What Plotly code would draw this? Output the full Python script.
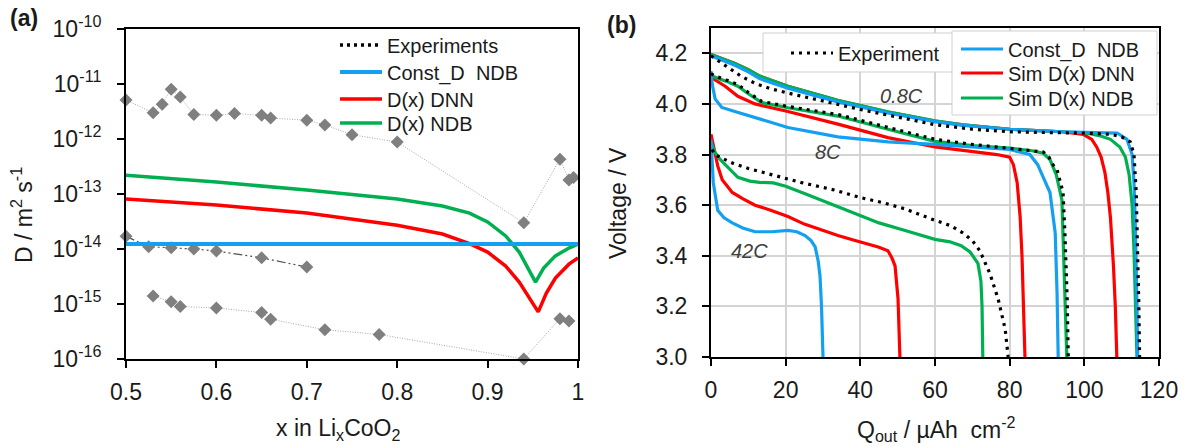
import plotly.graph_objects as go

# ---------------- Panel (a): diffusion coefficient vs x ----------------
x_exp_upper = [0.50, 0.53, 0.54, 0.55, 0.56, 0.575, 0.60, 0.62, 0.65, 0.66, 0.70, 0.72, 0.75, 0.80, 0.94, 0.98, 0.99, 0.995]
d_exp_upper = [5.1e-12, 3.0e-12, 4.3e-12, 8.0e-12, 5.8e-12, 2.8e-12, 2.7e-12, 2.9e-12, 2.7e-12, 2.4e-12,
               2.2e-12, 1.8e-12, 1.2e-12, 8.8e-13, 3.0e-14, 4.3e-13, 1.8e-13, 2.0e-13]

x_exp_mid = [0.50, 0.525, 0.55, 0.575, 0.60, 0.65, 0.70]
d_exp_mid = [1.7e-14, 1.1e-14, 1.05e-14, 1.0e-14, 9.2e-15, 6.9e-15, 4.7e-15]

x_exp_lower = [0.53, 0.55, 0.56, 0.60, 0.65, 0.66, 0.72, 0.78, 0.94, 0.98, 0.99]
d_exp_lower = [1.4e-15, 1.1e-15, 9.0e-16, 8.5e-16, 7.0e-16, 5.3e-16, 3.4e-16, 2.8e-16, 1.0e-16, 5.4e-16, 4.9e-16]

x_const = [0.50, 1.00]
d_const = [1.23e-14, 1.23e-14]

x_dnn = [0.50, 0.60, 0.70, 0.80, 0.85, 0.88, 0.90, 0.92, 0.935, 0.948, 0.956, 0.965, 0.975, 0.99, 1.00]
d_dnn = [8.1e-14, 6.3e-14, 4.5e-14, 2.7e-14, 1.87e-14, 1.25e-14, 8.8e-15, 4.9e-15, 2.5e-15, 1.17e-15,
         7.2e-16, 1.58e-15, 2.97e-15, 5.3e-15, 6.9e-15]

x_ndb = [0.50, 0.60, 0.70, 0.80, 0.85, 0.88, 0.90, 0.92, 0.935, 0.945, 0.953, 0.962, 0.975, 0.99, 1.00]
d_ndb = [2.2e-13, 1.65e-13, 1.18e-13, 8.1e-14, 6.05e-14, 4.5e-14, 3.1e-14, 1.73e-14, 8.8e-15, 4.5e-15,
         2.5e-15, 4.5e-15, 7.5e-15, 1.04e-14, 1.23e-14]

d_ticks = [1e-16, 1e-15, 1e-14, 1e-13, 1e-12, 1e-11, 1e-10]
d_ticktext = ["10<sup>-16</sup>", "10<sup>-15</sup>", "10<sup>-14</sup>", "10<sup>-13</sup>",
              "10<sup>-12</sup>", "10<sup>-11</sup>", "10<sup>-10</sup>"]
x_ticks = [0.5, 0.6, 0.7, 0.8, 0.9, 1.0]
x_ticktext = ["0.5", "0.6", "0.7", "0.8", "0.9", "1"]

# ---------------- Panel (b): discharge curves ----------------
# 0.8C
q_exp_08 = [0, 2, 5, 8, 12, 16, 20, 30, 40, 50, 60, 70, 80, 90, 100, 107, 110, 112.3, 113.3, 113.9, 114.3, 114.6, 114.8]
v_exp_08 = [4.19, 4.17, 4.14, 4.11, 4.08, 4.06, 4.045, 4.01, 3.978, 3.948, 3.918, 3.90, 3.89, 3.887, 3.885, 3.88,
            3.87, 3.85, 3.80, 3.65, 3.42, 3.2, 3.0]
q_dnn_08 = [0, 3, 6.4, 10, 13, 20.6, 34, 47.4, 60, 67.5, 80, 94, 99.7, 102, 103.3, 104.5, 105.5, 106.3, 107, 107.8, 108.3, 108.7]
v_dnn_08 = [4.195, 4.18, 4.16, 4.135, 4.11, 4.07, 4.013, 3.968, 3.932, 3.917, 3.90, 3.89, 3.88, 3.86, 3.83, 3.79,
            3.73, 3.65, 3.55, 3.36, 3.2, 3.0]
q_ndb_08 = [0, 3, 6.4, 10, 13, 20.6, 34, 47.4, 60, 67.5, 80, 94, 100, 104, 107, 109.5, 111, 112, 112.8, 113.3, 113.8, 114.1]
v_ndb_08 = [4.195, 4.18, 4.16, 4.135, 4.11, 4.07, 4.014, 3.969, 3.933, 3.917, 3.90, 3.89, 3.886, 3.875, 3.86, 3.83,
            3.79, 3.72, 3.6, 3.42, 3.2, 3.0]
q_cst_08 = [0, 3, 6.4, 10, 13, 20.6, 34, 47.4, 60, 67.5, 80, 94, 100, 105, 108.8, 111.4, 112.8, 113.3, 113.7, 114.1, 114.3]
v_cst_08 = [4.19, 4.172, 4.153, 4.127, 4.10, 4.062, 4.008, 3.964, 3.93, 3.915, 3.90, 3.89, 3.888, 3.888, 3.885, 3.86,
            3.80, 3.69, 3.5, 3.2, 3.0]
# 8C
q_exp_8 = [0, 1.1, 4, 7.2, 10, 13.6, 20.6, 34, 47.4, 60, 70, 76.6, 84, 89, 90.5, 91.6, 92.7, 94.3, 94.8, 95.4, 95.7]
v_exp_8 = [4.12, 4.11, 4.095, 4.077, 4.045, 4.01, 3.99, 3.958, 3.907, 3.86, 3.84, 3.83, 3.82, 3.81, 3.79, 3.76,
           3.74, 3.65, 3.49, 3.23, 3.0]
q_dnn_8 = [0, 0.5, 3.8, 7.2, 11.8, 20.6, 34, 47.4, 60, 76.6, 80, 81, 82, 82.8, 83.3, 83.6, 84.1]
v_dnn_8 = [4.11, 4.10, 4.07, 4.03, 4.0, 3.97, 3.92, 3.867, 3.83, 3.80, 3.79, 3.76, 3.69, 3.555, 3.4, 3.23, 3.0]
q_ndb_8 = [0, 1.1, 4, 7.2, 10, 13.6, 20.6, 34, 47.4, 60, 70, 80, 86, 89, 90.8, 92.5, 94, 94.8, 95.3]
v_ndb_8 = [4.115, 4.105, 4.09, 4.07, 4.04, 4.005, 3.985, 3.952, 3.90, 3.852, 3.835, 3.825, 3.815, 3.805, 3.78,
           3.72, 3.62, 3.29, 3.0]
q_cst_8 = [0, 0.3, 1.1, 2.9, 6.4, 11.8, 20.6, 34, 47.4, 60, 80, 85.4, 87.5, 89, 90.8, 92.2, 92.7, 93]
v_cst_8 = [4.13, 4.08, 4.02, 3.986, 3.97, 3.946, 3.907, 3.87, 3.85, 3.84, 3.82, 3.80, 3.76, 3.71, 3.65, 3.49, 3.25, 3.0]
# 42C
q_exp_42 = [0.3, 1, 3, 6, 10, 16, 24, 33, 40, 46, 52, 60, 64, 67.5, 70, 72, 74.7, 76.9, 78.8, 79.6]
v_exp_42 = [3.82, 3.80, 3.785, 3.765, 3.745, 3.72, 3.69, 3.66, 3.63, 3.61, 3.585, 3.54, 3.52, 3.49, 3.46, 3.42,
            3.33, 3.23, 3.11, 3.0]
q_dnn_42 = [0, 0.8, 1.8, 3, 5.7, 8.6, 11.8, 16, 20.6, 25, 29.7, 34, 38.6, 42, 44.8, 47.4, 48.5, 49.3, 50.1, 50.6]
v_dnn_42 = [3.88, 3.82, 3.755, 3.70, 3.65, 3.625, 3.60, 3.58, 3.555, 3.525, 3.50, 3.48, 3.46, 3.445, 3.435, 3.42,
            3.39, 3.36, 3.23, 3.0]
q_ndb_42 = [0, 1, 2.5, 4.2, 7.2, 10.4, 13, 16.7, 20, 25.2, 32.8, 38.6, 45, 52, 60, 64, 67, 69.4, 71.5, 72.3, 72.6, 72.8]
v_ndb_42 = [3.85, 3.81, 3.78, 3.755, 3.71, 3.695, 3.69, 3.688, 3.675, 3.645, 3.60, 3.565, 3.53, 3.50, 3.465, 3.455,
            3.44, 3.415, 3.37, 3.30, 3.2, 3.0]
q_cst_42 = [0, 0.2, 0.6, 1.8, 3.5, 5.7, 8.5, 11.8, 16.3, 20.6, 23, 25.2, 26.8, 27.9, 28.7, 29.2, 29.6, 30]
v_cst_42 = [3.86, 3.78, 3.69, 3.58, 3.55, 3.53, 3.51, 3.495, 3.495, 3.50, 3.495, 3.48, 3.46, 3.435, 3.38, 3.32, 3.2, 3.0]

q_ticks = [0, 20, 40, 60, 80, 100, 120]
v_ticks = [3.0, 3.2, 3.4, 3.6, 3.8, 4.0, 4.2]
rate_labels = ["0.8C", "8C", "42C"]
rate_label_q = [51, 31.3, 10.4]
rate_label_v = [4.03, 3.81, 3.42]

# ---------------- styling ----------------
W, H = 1195, 446
FONT = "Liberation Sans, Arial, sans-serif"
TXT = "#1a1a1a"
BLUE = "#14A0F0"
RED = "#FF0000"
GREEN = "#00B050"
GRID = "#D4D4D4"


def px(xp):
    return xp / W


def py(yp):
    return 1 - yp / H


fig = go.Figure()

# Panel (a) experimental data
exp_marker = dict(symbol="diamond", size=10, color="#7F7F7F")
fig.add_trace(go.Scatter(x=x_exp_upper, y=d_exp_upper, mode="lines+markers", showlegend=False,
                         line=dict(color="#A8A8A8", width=1, dash="1px,1.5px"), marker=exp_marker,
                         cliponaxis=False, xaxis="x", yaxis="y"))
fig.add_trace(go.Scatter(x=x_exp_mid, y=d_exp_mid, mode="lines+markers", showlegend=False,
                         line=dict(color="#505050", width=1.2, dash="9px,3px,2px,3px,2px,3px"), marker=exp_marker,
                         cliponaxis=False, xaxis="x", yaxis="y"))
fig.add_trace(go.Scatter(x=x_exp_lower, y=d_exp_lower, mode="lines+markers", showlegend=False,
                         line=dict(color="#A8A8A8", width=1, dash="1px,1.5px"), marker=exp_marker,
                         cliponaxis=False, xaxis="x", yaxis="y"))
fig.add_trace(go.Scatter(x=[None], y=[None], mode="lines", name="Experiments", legend="legend",
                         line=dict(color="black", width=3.5, dash="3px,4px"), xaxis="x", yaxis="y"))
fig.add_trace(go.Scatter(x=x_dnn, y=d_dnn, mode="lines", name="D(x) DNN", legend="legend5",
                         line=dict(color=RED, width=3.5), xaxis="x", yaxis="y"))
fig.add_trace(go.Scatter(x=x_ndb, y=d_ndb, mode="lines", name="D(x) NDB", legend="legend6",
                         line=dict(color=GREEN, width=3.5), xaxis="x", yaxis="y"))
fig.add_trace(go.Scatter(x=x_const, y=d_const, mode="lines", name="Const_D  NDB", legend="legend4",
                         line=dict(color=BLUE, width=4), xaxis="x", yaxis="y"))

# Panel (b)
groups = [
    (q_dnn_08, v_dnn_08, q_ndb_08, v_ndb_08, q_cst_08, v_cst_08, q_exp_08, v_exp_08),
    (q_dnn_8, v_dnn_8, q_ndb_8, v_ndb_8, q_cst_8, v_cst_8, q_exp_8, v_exp_8),
    (q_dnn_42, v_dnn_42, q_ndb_42, v_ndb_42, q_cst_42, v_cst_42, q_exp_42, v_exp_42),
]
for i, (qd, vd, qn, vn, qc, vc, qe, ve) in enumerate(groups):
    first = i == 0
    fig.add_trace(go.Scatter(x=qd, y=vd, mode="lines", name="Sim D(x) DNN", showlegend=first,
                             legend="legend8", line=dict(color=RED, width=3.2), xaxis="x2", yaxis="y2"))
    fig.add_trace(go.Scatter(x=qn, y=vn, mode="lines", name="Sim D(x) NDB", showlegend=first,
                             legend="legend9", line=dict(color=GREEN, width=3.2), xaxis="x2", yaxis="y2"))
    fig.add_trace(go.Scatter(x=qc, y=vc, mode="lines", name="Const_D  NDB", showlegend=first,
                             legend="legend7", line=dict(color=BLUE, width=3.2), xaxis="x2", yaxis="y2"))
    fig.add_trace(go.Scatter(x=qe, y=ve, mode="lines", name="Experiment", showlegend=first,
                             legend="legend2", line=dict(color="black", width=3.2, dash="3px,5px"),
                             xaxis="x2", yaxis="y2"))

axis_common = dict(showline=True, linecolor="black", linewidth=2, mirror=True, ticks="outside",
                   ticklen=7, tickwidth=2, tickcolor="black", automargin=False,
                   tickfont=dict(family=FONT, size=23, color=TXT), zeroline=False)


def leg(xp, yp):
    return dict(x=px(xp), y=py(yp), xanchor="left", yanchor="middle", bgcolor="rgba(0,0,0,0)",
                borderwidth=0, font=dict(family=FONT, size=20, color=TXT), itemwidth=42)


fig.update_layout(
    width=W, height=H, margin=dict(l=0, r=0, t=0, b=0, autoexpand=False),
    paper_bgcolor="white", plot_bgcolor="white",
    font=dict(family=FONT, color=TXT),
    xaxis=dict(domain=[px(126), px(578)], range=[0.5, 1.0], tickvals=x_ticks, ticktext=x_ticktext,
               showgrid=False, anchor="y", ticklabelstandoff=4, **axis_common),
    yaxis=dict(domain=[py(359), py(29)], type="log", range=[-16, -10], tickvals=d_ticks, ticktext=d_ticktext,
               showgrid=False, anchor="x", ticklabelstandoff=11, **axis_common),
    xaxis2=dict(domain=[px(711), px(1159)], range=[0, 120], tickvals=q_ticks, showgrid=True,
                gridcolor=GRID, gridwidth=2, anchor="y2", ticklabelstandoff=4, **axis_common),
    yaxis2=dict(domain=[py(357), py(28)], range=[3.0, 4.3], tickvals=v_ticks, tickformat=".1f", showgrid=True,
                gridcolor=GRID, gridwidth=2, anchor="x2", ticklabelstandoff=10, **axis_common),
    legend=leg(335, 45), legend4=leg(335, 72), legend5=leg(335, 99), legend6=leg(335, 123),
    legend2=leg(786, 53), legend7=leg(956, 49), legend8=leg(956, 73), legend9=leg(956, 98),
    shapes=[
        dict(type="rect", xref="paper", yref="paper", x0=px(763), x1=px(962), y0=py(72), y1=py(33),
             fillcolor="white", line=dict(color="#D0D0D0", width=1), layer="above"),
        dict(type="rect", xref="paper", yref="paper", x0=px(952), x1=px(1157), y0=py(115), y1=py(31),
             fillcolor="white", line=dict(color="#D0D0D0", width=1), layer="above"),
    ],
)


def note(text, xp, yp, size=23, angle=0):
    return dict(text=text, x=px(xp), y=py(yp), xref="paper", yref="paper", showarrow=False,
                xanchor="center", yanchor="middle", textangle=angle,
                font=dict(family=FONT, size=size, color=TXT))


annotations = [
    note("<b>(a)</b>", 24, 18, size=23),
    note("<b>(b)</b>", 621, 25, size=23),
    note("D / m<sup>2</sup> s<sup>-1</sup>", 22, 215, angle=-90),
    note("x in Li<sub>x</sub>CoO<sub>2</sub>", 338, 429),
    note("Voltage / V", 618, 203, angle=-90),
    note("Q<sub>out</sub> / µAh  cm<sup>-2</sup>", 936, 429),
]
for lab, q, v in zip(rate_labels, rate_label_q, rate_label_v):
    annotations.append(dict(text="<i>" + lab + "</i>", x=q, y=v, xref="x2", yref="y2", showarrow=False,
                            xanchor="center", yanchor="middle",
                            font=dict(family=FONT, size=20, color="#404040")))
fig.update_layout(annotations=annotations)

fig.write_html("out.html")
